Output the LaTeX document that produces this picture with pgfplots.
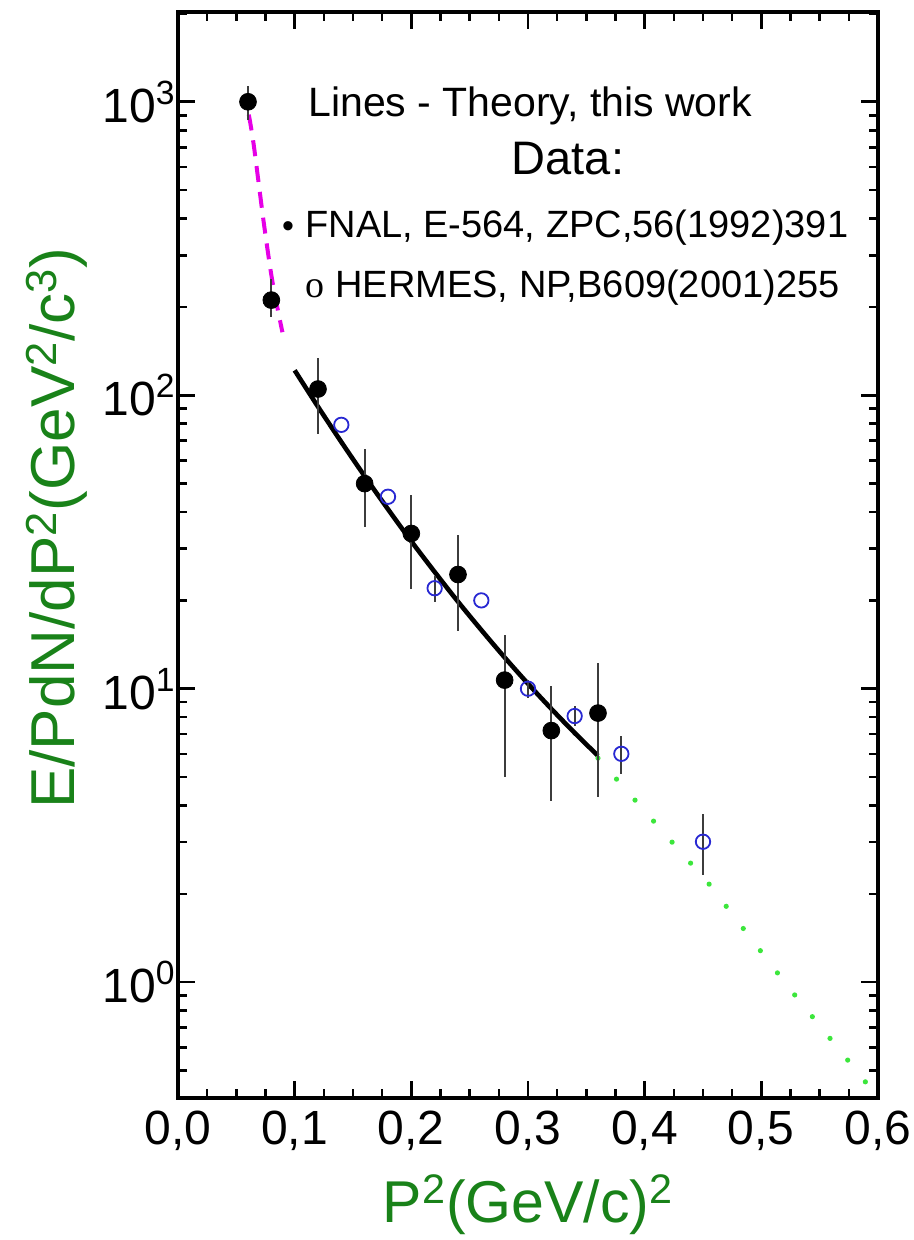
\documentclass[border=0pt]{standalone}
\usepackage{fontspec}
\setmainfont{Liberation Sans}
\newfontfamily\seriffont{Liberation Serif}
\usepackage{pgfplots}
\pgfplotsset{compat=1.18}
\usetikzlibrary{calc}

\definecolor{labelgreen}{RGB}{25,130,25}
\definecolor{theorymag}{RGB}{230,0,230}
\definecolor{dotgreen}{RGB}{60,230,60}
\definecolor{hermesblue}{RGB}{40,40,210}
\definecolor{errgray}{RGB}{60,60,60}

\begin{document}
\begin{tikzpicture}
\begin{axis}[
    name=ax,
    scale only axis,
    width=350pt, height=543pt,
    ymode=log,
    xmin=0, xmax=0.6,
    ymin=0.403, ymax=2023,
    axis line style={line width=1.6pt},
    every tick/.style={black, line width=1.3pt},
    major tick length=8.5pt,
    minor tick length=4.5pt,
    xtick={0,0.1,0.2,0.3,0.4,0.5,0.6},
    xticklabels={{0,0},{0,1},{0,2},{0,3},{0,4},{0,5},{0,6}},
    minor x tick num=3,
    ytick={1,10,100,1000},
    yticklabels={10\textsuperscript{0},10\textsuperscript{1},10\textsuperscript{2},10\textsuperscript{3}},
    minor ytick={0.5,0.6,0.7,0.8,0.9,2,3,4,5,6,7,8,9,20,30,40,50,60,70,80,90,200,300,400,500,600,700,800,900,2000},
    tick label style={font=\fontsize{24}{28}\selectfont},
    xticklabel style={yshift=-3pt},
    yticklabel style={inner sep=1pt},
]
% theory, low P^2 (dashed magenta)
\addplot[theorymag, line width=2pt, dash pattern=on 8pt off 5pt, smooth] coordinates {
    (0.0607,904) (0.065,709) (0.0735,388) (0.081,243) (0.0895,164)
};
% theory, this work (solid black)
\addplot[black, line width=2.3pt, smooth] coordinates {
    (0.10,121.6) (0.12,91.4) (0.14,69.3) (0.16,53.0) (0.18,40.9) (0.20,31.8)
    (0.22,25.0) (0.24,19.8) (0.26,15.85) (0.28,12.78) (0.30,10.40)
    (0.32,8.54) (0.34,7.07) (0.36,5.91)
};
% theory, extrapolation (dotted green)
\addplot[dotgreen, line width=2.6pt, line cap=round, dash pattern=on 0pt off 14pt] coordinates {
    (0.36,5.8) (0.40,3.83) (0.4556,2.15) (0.524,0.953) (0.6,0.405)
};
% FNAL E-564
\addplot[only marks, mark=*, mark size=4.2pt, mark options={draw=black, fill=black},
    error bars/.cd, y dir=both, y explicit, error mark=none,
    error bar style={line width=1pt, errgray}]
coordinates {
    (0.06,1000) += (0,133) -= (0,132)
    (0.08,211) += (0,37) -= (0,26.5)
    (0.12,105) += (0,29) -= (0,31)
    (0.16,50) += (0,15.7) -= (0,14.3)
    (0.20,33.8) += (0,12) -= (0,12)
    (0.24,24.5) += (0,9) -= (0,8.8)
    (0.28,10.7) += (0,4.5) -= (0,5.7)
    (0.32,7.2) += (0,3.0) -= (0,3.05)
    (0.36,8.26) += (0,3.94) -= (0,4.0)
};
% HERMES
\addplot[only marks, mark=o, mark size=3.6pt, mark options={draw=hermesblue, line width=0.9pt},
    error bars/.cd, y dir=both, y explicit, error mark=none,
    error bar style={line width=1pt, errgray}]
coordinates {
    (0.14,79.3) += (0,0) -= (0,0)
    (0.18,45.1) += (0,0) -= (0,0)
    (0.22,22.0) += (0,2.2) -= (0,2.2)
    (0.26,20.0) += (0,0) -= (0,0)
    (0.30,10.0) += (0,0.7) -= (0,0.7)
    (0.34,8.07) += (0,0.65) -= (0,0.6)
    (0.38,6.0) += (0,0.9) -= (0,0.87)
    (0.45,3.01) += (0,0.74) -= (0,0.70)
};
\end{axis}

% labels
\node[rotate=90, anchor=center, font=\fontsize{31}{36}\selectfont, text=labelgreen]
    at ($(ax.south west)+(-60.5pt,285pt)$) {E/PdN/dP\textsuperscript{2}(GeV\textsuperscript{2}/c\textsuperscript{3})};
\node[anchor=base, font=\fontsize{29.5}{34}\selectfont, text=labelgreen]
    at ($(ax.south west)+(175pt,-62pt)$) {P\textsuperscript{2}(GeV/c)\textsuperscript{2}};

% legend text
\node[anchor=base west, inner sep=0pt, font=\fontsize{20.5}{24}\selectfont]
    at ($(ax.south west)+(65pt,490.5pt)$) {Lines - Theory, this work};
\node[anchor=base, inner sep=0pt, font=\fontsize{23.5}{28}\selectfont]
    at ($(ax.south west)+(195pt,462pt)$) {Data:};
\node[anchor=base, inner sep=0pt, font=\fontsize{17}{20}\selectfont]
    at ($(ax.south west)+(55pt,430.25pt)$) {•};
\node[anchor=base west, inner sep=0pt, font=\fontsize{19}{23}\selectfont]
    at ($(ax.south west)+(63.5pt,430.25pt)$) {FNAL, E-564, ZPC,56(1992)391};
\node[anchor=base, inner sep=0pt, font=\seriffont\fontsize{19}{23}\selectfont]
    at ($(ax.south west)+(68.5pt,400.5pt)$) {o};
\node[anchor=base west, inner sep=0pt, font=\fontsize{19}{23}\selectfont]
    at ($(ax.south west)+(78.5pt,400.5pt)$) {HERMES, NP,B609(2001)255};

\pgfresetboundingbox
\path[use as bounding box] ($(ax.south west)+(-89pt,-71pt)$) rectangle ($(ax.north east)+(18pt,6pt)$);
\end{tikzpicture}
\end{document}
